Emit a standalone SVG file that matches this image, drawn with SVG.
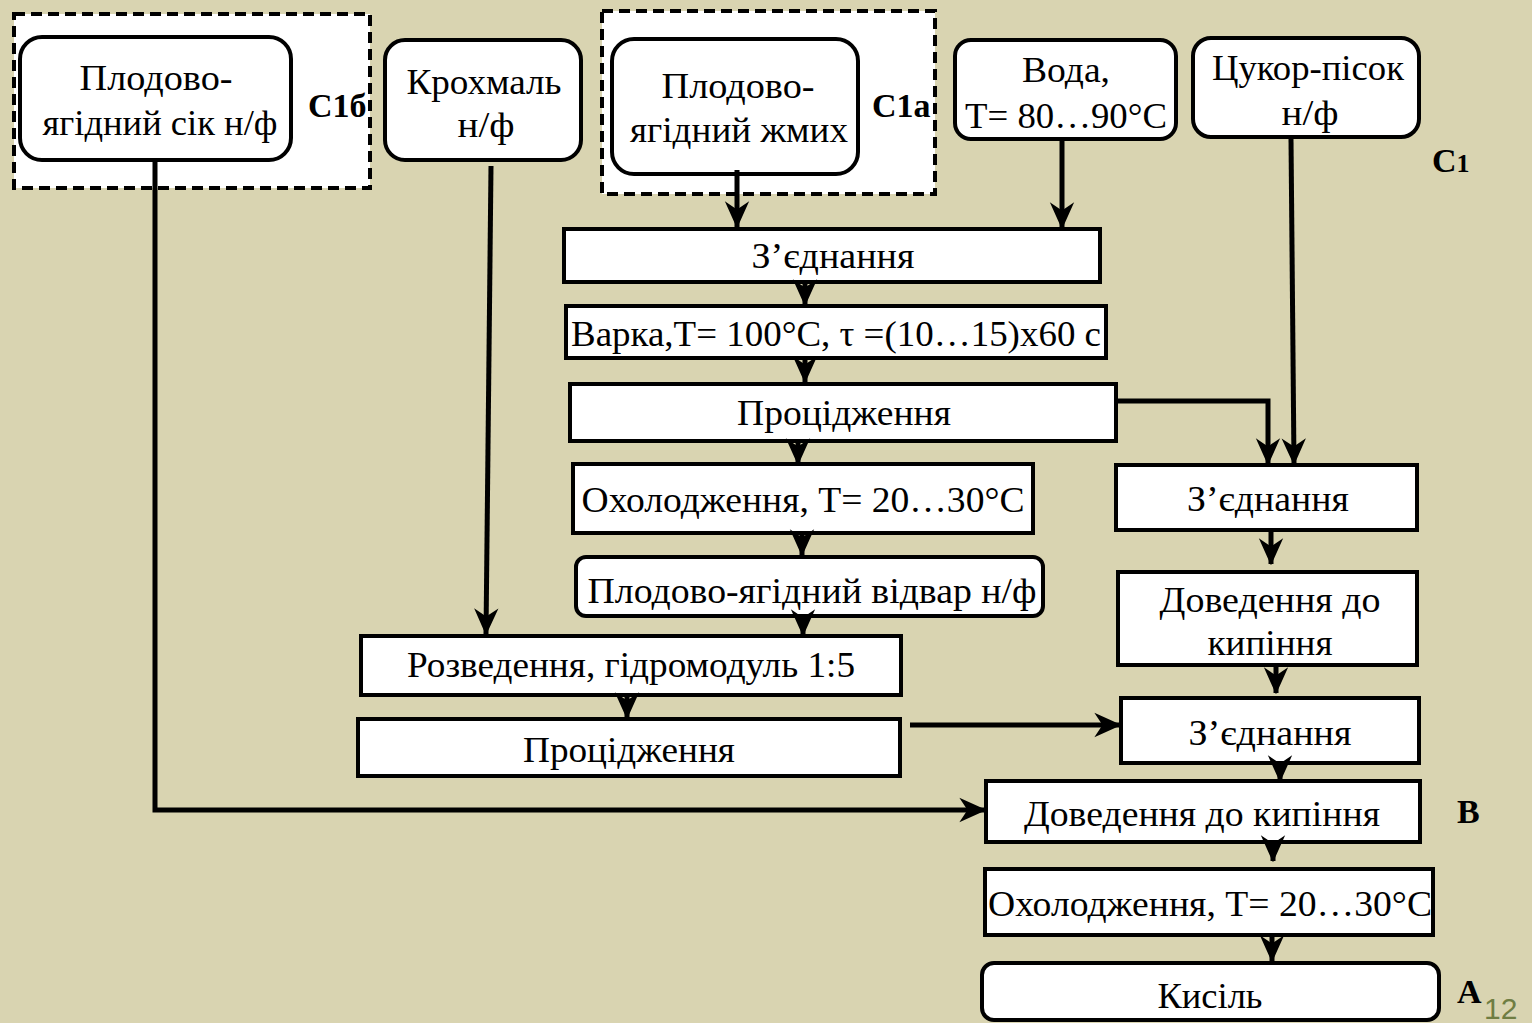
<svg xmlns="http://www.w3.org/2000/svg" width="1532" height="1023" viewBox="0 0 1532 1023">
<defs>
<marker id="ah" viewBox="0 0 20 20" refX="19" refY="10" markerWidth="27" markerHeight="27" markerUnits="userSpaceOnUse" orient="auto">
<path d="M0,1 L20,10 L0,19 L6,10 z" fill="#000"/>
</marker>
</defs>
<style>
.bg{fill:#d9d4b1}
.box{fill:#fff;stroke:#000;stroke-width:4}
.dash{fill:#fff;stroke:#000;stroke-width:4;stroke-dasharray:11 6}
.t{font-family:"Liberation Serif","Times New Roman",serif;font-size:35px;fill:#000;text-anchor:middle}
.lbl{font-family:"Liberation Serif","Times New Roman",serif;font-size:34px;font-weight:bold;fill:#000}
.c{fill:none;stroke:#000;stroke-width:5;marker-end:url(#ah)}
.pg{font-family:"Liberation Sans",Arial,sans-serif;font-size:30px;fill:#6f7d42}
</style>
<rect class="bg" x="0" y="0" width="1532" height="1023"/>

<g id="grp-c1b">
<rect class="dash" x="14" y="14" width="356" height="174"/>
<text class="lbl" x="308" y="117">C1б</text>
</g>
<g id="grp-c1a">
<rect class="dash" x="602" y="11" width="333" height="183"/>
<text class="lbl" x="872" y="117">C1a</text>
</g>

<g id="n-juice">
<rect class="box" x="20" y="37" width="271" height="123" rx="22"/>
<text class="t" x="156" y="90" textLength="153" lengthAdjust="spacingAndGlyphs">Плодово-</text>
<text class="t" x="160" y="135" textLength="235" lengthAdjust="spacingAndGlyphs">ягідний сік н/ф</text>
</g>
<g id="n-starch">
<rect class="box" x="385" y="40" width="196" height="120" rx="20"/>
<text class="t" x="484" y="94" textLength="155" lengthAdjust="spacingAndGlyphs">Крохмаль</text>
<text class="t" x="486" y="137" textLength="57" lengthAdjust="spacingAndGlyphs">н/ф</text>
</g>
<g id="n-pomace">
<rect class="box" x="612" y="39" width="246" height="135" rx="22"/>
<text class="t" x="738" y="98" textLength="153" lengthAdjust="spacingAndGlyphs">Плодово-</text>
<text class="t" x="739" y="142" textLength="218" lengthAdjust="spacingAndGlyphs">ягідний жмих</text>
</g>
<g id="n-water">
<rect class="box" x="955" y="40" width="221" height="99" rx="16"/>
<text class="t" x="1066" y="82" textLength="88" lengthAdjust="spacingAndGlyphs">Вода,</text>
<text class="t" x="1066" y="128" textLength="202" lengthAdjust="spacingAndGlyphs">T= 80…90°C</text>
</g>
<g id="n-sugar">
<rect class="box" x="1193" y="38" width="226" height="99" rx="18"/>
<text class="t" x="1308" y="80" textLength="192" lengthAdjust="spacingAndGlyphs">Цукор-пісок</text>
<text class="t" x="1310" y="125" textLength="57" lengthAdjust="spacingAndGlyphs">н/ф</text>
</g>
<text class="lbl" x="1432" y="172">C<tspan font-size="26">1</tspan></text>

<g id="n-join1">
<rect class="box" x="564" y="229" width="536" height="53"/>
<text class="t" x="833" y="268" textLength="163" lengthAdjust="spacingAndGlyphs">З’єднання</text>
</g>
<g id="n-boil">
<rect class="box" x="566" y="306" width="540" height="52"/>
<text class="t" x="836" y="346" textLength="530" lengthAdjust="spacingAndGlyphs">Варка,T= 100°C, τ =(10…15)x60 c</text>
</g>
<g id="n-strain1">
<rect class="box" x="570" y="384" width="546" height="57"/>
<text class="t" x="844" y="425" textLength="214" lengthAdjust="spacingAndGlyphs">Процідження</text>
</g>
<g id="n-cool1">
<rect class="box" x="573" y="464" width="460" height="69"/>
<text class="t" x="803" y="512" textLength="443" lengthAdjust="spacingAndGlyphs">Охолодження, T= 20…30°C</text>
</g>
<g id="n-decoction">
<rect class="box" x="576" y="557" width="467" height="59" rx="10"/>
<text class="t" x="812" y="603" textLength="449" lengthAdjust="spacingAndGlyphs">Плодово-ягідний відвар н/ф</text>
</g>
<g id="n-dilute">
<rect class="box" x="361" y="636" width="540" height="59"/>
<text class="t" x="631" y="677" textLength="448" lengthAdjust="spacingAndGlyphs">Розведення, гідромодуль 1:5</text>
</g>
<g id="n-strain2">
<rect class="box" x="358" y="719" width="542" height="57"/>
<text class="t" x="629" y="762" textLength="212" lengthAdjust="spacingAndGlyphs">Процідження</text>
</g>

<g id="n-join2">
<rect class="box" x="1116" y="465" width="301" height="65"/>
<text class="t" x="1268" y="511" textLength="162" lengthAdjust="spacingAndGlyphs">З’єднання</text>
</g>
<g id="n-heat1">
<rect class="box" x="1118" y="572" width="299" height="93"/>
<text class="t" x="1270" y="612" textLength="221" lengthAdjust="spacingAndGlyphs">Доведення до</text>
<text class="t" x="1270" y="655" textLength="125" lengthAdjust="spacingAndGlyphs">кипіння</text>
</g>
<g id="n-join3">
<rect class="box" x="1121" y="698" width="298" height="65"/>
<text class="t" x="1270" y="745" textLength="163" lengthAdjust="spacingAndGlyphs">З’єднання</text>
</g>
<g id="n-heat2">
<rect class="box" x="986" y="781" width="434" height="61"/>
<text class="t" x="1202" y="826" textLength="356" lengthAdjust="spacingAndGlyphs">Доведення до кипіння</text>
</g>
<text class="lbl" x="1457" y="823">B</text>
<g id="n-cool2">
<rect class="box" x="985" y="869" width="448" height="66"/>
<text class="t" x="1210" y="916" textLength="444" lengthAdjust="spacingAndGlyphs">Охолодження, T= 20…30°C</text>
</g>
<g id="n-kissel">
<rect class="box" x="982" y="963" width="457" height="57" rx="12"/>
<text class="t" x="1210" y="1008" textLength="105" lengthAdjust="spacingAndGlyphs">Кисіль</text>
</g>
<text class="lbl" x="1457" y="1003">A</text>
<text class="pg" x="1484" y="1019">12</text>

<g id="connectors">
<path class="c" d="M737,170 V227"/>
<path class="c" d="M1062,139 V228"/>
<path class="c" d="M805,282 V305"/>
<path class="c" d="M805,358 V382"/>
<path class="c" d="M798,441 V464"/>
<path class="c" d="M802,533 V555"/>
<path class="c" d="M803,616 V635"/>
<path class="c" d="M491,166 L486,634"/>
<path class="c" d="M627,695 V718"/>
<path class="c" d="M1116,401 H1268 V464"/>
<path class="c" d="M1291,139 L1294,464"/>
<path class="c" d="M1271,530 V564"/>
<path class="c" d="M1276,665 V693"/>
<path class="c" d="M910,725 H1120"/>
<path class="c" d="M1280,763 V781"/>
<path class="c" d="M155,160 V810 H985"/>
<path class="c" d="M1273,842 V861"/>
<path class="c" d="M1272,935 V961"/>
</g>
</svg>
